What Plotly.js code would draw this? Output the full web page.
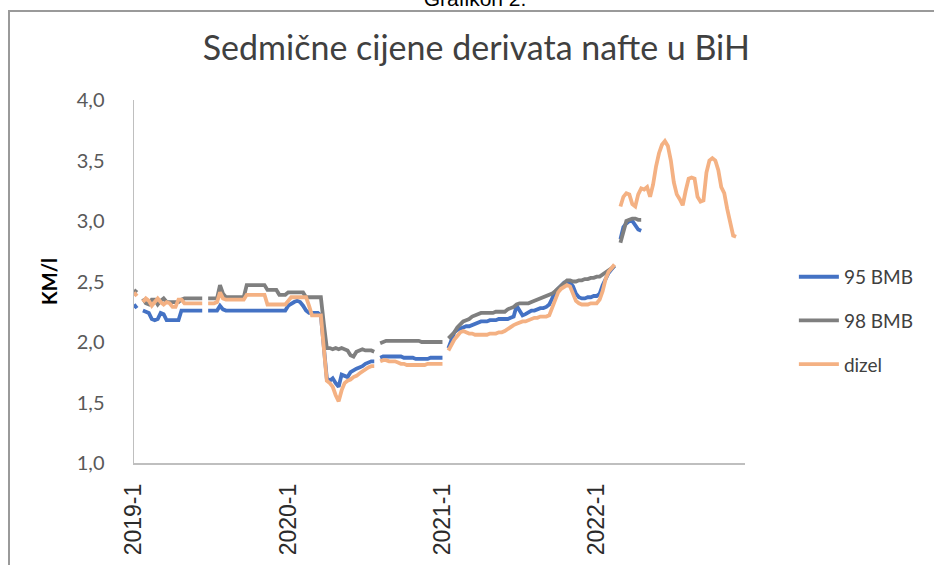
<!DOCTYPE html>
<html>
<head>
<meta charset="utf-8">
<script src="https://cdn.plot.ly/plotly-3.0.1.min.js"></script>
<style>
html,body{margin:0;padding:0;background:#fff;}
#wrap{position:relative;width:934px;height:565px;overflow:hidden;}
#chart{position:absolute;left:0;top:0;width:934px;height:565px;}
#frame{position:absolute;left:8px;top:10px;width:940px;height:570px;border-left:2px solid #9a9a9a;border-top:2px solid #9a9a9a;pointer-events:none;}
#cap{position:absolute;left:8px;width:934px;top:-13px;text-align:center;font-family:"Liberation Sans",Arial,sans-serif;font-size:21px;color:#000;}
</style>
</head>
<body>
<div id="wrap">
<div id="chart"></div>
<div id="frame"></div>
<div id="cap">Grafikon 2.</div>
</div>
<script>
// Tick labels shown on the category axis
const tickLabels = ["2019-1", "2020-1", "2021-1", "2022-1"];
const years = [2019, 2020, 2021, 2022];
const lastWeek2022 = 51;

// Weekly prices, KM/l (null = no data)
const bmb95 = [
  2.31, 2.28, null, 2.26, 2.25, 2.24, 2.19, 2.18, 2.19, 2.24,
  2.23, 2.18, 2.18, 2.18, 2.18, 2.18, 2.26, 2.26, 2.26, 2.26,
  2.26, 2.26, 2.26, 2.26, null, 2.26, 2.26, 2.26, 2.26, 2.30,
  2.27, 2.26, 2.26, 2.26, 2.26, 2.26, 2.26, 2.26, 2.26, 2.26,
  2.26, 2.26, 2.26, 2.26, 2.26, 2.26, 2.26, 2.26, 2.26, 2.26,
  2.26, 2.26, 2.30, 2.32, 2.33, 2.34, 2.33, 2.30, 2.26, 2.24,
  2.24, 2.24, 2.24, 2.22, 1.95, 1.70, 1.68, 1.70, 1.66, 1.63,
  1.73, 1.72, 1.71, 1.75, 1.77, 1.78, 1.79, 1.80, 1.82, 1.83,
  1.84, 1.84, null, 1.87, 1.88, 1.88, 1.88, 1.88, 1.88, 1.88,
  1.88, 1.87, 1.87, 1.87, 1.87, 1.86, 1.86, 1.86, 1.86, 1.86,
  1.87, 1.87, 1.87, 1.87, 1.87, null, 1.95, 2.02, 2.08, 2.10,
  2.11, 2.12, 2.13, 2.13, 2.14, 2.15, 2.16, 2.17, 2.17, 2.17,
  2.18, 2.18, 2.18, 2.19, 2.19, 2.19, 2.19, 2.20, 2.21, 2.30,
  2.26, 2.22, 2.23, 2.25, 2.26, 2.26, 2.27, 2.28, 2.28, 2.29,
  2.31, 2.36, 2.41, 2.44, 2.47, 2.49, 2.49, 2.49, 2.46, 2.40,
  2.37, 2.36, 2.36, 2.37, 2.37, 2.38, 2.38, 2.40, 2.47, 2.53,
  2.57, 2.60, 2.63, null, 2.85, 2.95, 2.98, 3.00, 3.00, 2.97,
  2.93, 2.92
];
const bmb98 = [
  2.43, 2.41, null, 2.36, 2.32, 2.31, 2.35, 2.35, 2.31, 2.34,
  2.36, 2.33, 2.33, 2.33, 2.33, 2.33, 2.35, 2.36, 2.36, 2.36,
  2.36, 2.36, 2.36, 2.36, null, 2.36, 2.36, 2.36, 2.36, 2.47,
  2.40, 2.37, 2.37, 2.37, 2.37, 2.37, 2.37, 2.37, 2.47, 2.47,
  2.47, 2.47, 2.47, 2.47, 2.47, 2.43, 2.43, 2.43, 2.43, 2.39,
  2.39, 2.39, 2.41, 2.41, 2.41, 2.41, 2.41, 2.41, 2.37, 2.37,
  2.37, 2.37, 2.37, 2.37, 2.15, 1.95, 1.95, 1.94, 1.95, 1.94,
  1.95, 1.94, 1.93, 1.89, 1.88, 1.92, 1.93, 1.94, 1.93, 1.93,
  1.93, 1.92, null, 1.99, 2.00, 2.01, 2.01, 2.01, 2.01, 2.01,
  2.01, 2.01, 2.01, 2.01, 2.01, 2.01, 2.01, 2.00, 2.00, 2.00,
  2.00, 2.00, 2.00, 2.00, 2.00, null, 2.03, 2.05, 2.08, 2.12,
  2.15, 2.17, 2.18, 2.19, 2.21, 2.22, 2.23, 2.24, 2.24, 2.24,
  2.24, 2.24, 2.25, 2.25, 2.25, 2.25, 2.27, 2.28, 2.29, 2.31,
  2.32, 2.32, 2.32, 2.32, 2.33, 2.34, 2.35, 2.36, 2.37, 2.38,
  2.39, 2.40, 2.42, 2.44, 2.46, 2.48, 2.51, 2.51, 2.50, 2.50,
  2.51, 2.51, 2.52, 2.52, 2.53, 2.53, 2.54, 2.54, 2.56, 2.58,
  2.59, 2.61, 2.63, null, 2.82, 2.92, 3.00, 3.01, 3.02, 3.02,
  3.01, 3.01
];
const dizel = [
  2.41, 2.38, null, 2.33, 2.36, 2.34, 2.30, 2.33, 2.36, 2.33,
  2.31, 2.33, 2.32, 2.29, 2.29, 2.35, 2.35, 2.32, 2.32, 2.32,
  2.32, 2.32, 2.32, 2.32, null, 2.32, 2.32, 2.32, 2.33, 2.41,
  2.36, 2.35, 2.35, 2.35, 2.35, 2.35, 2.35, 2.35, 2.39, 2.39,
  2.39, 2.39, 2.39, 2.39, 2.39, 2.31, 2.31, 2.31, 2.31, 2.31,
  2.31, 2.31, 2.34, 2.37, 2.37, 2.37, 2.37, 2.37, 2.37, 2.30,
  2.22, 2.22, 2.22, 2.22, 1.95, 1.68, 1.66, 1.63, 1.56, 1.51,
  1.60, 1.66, 1.68, 1.69, 1.71, 1.72, 1.74, 1.76, 1.78, 1.79,
  1.80, 1.80, null, 1.84, 1.85, 1.85, 1.84, 1.84, 1.84, 1.83,
  1.82, 1.82, 1.81, 1.81, 1.81, 1.81, 1.81, 1.81, 1.81, 1.82,
  1.82, 1.82, 1.82, 1.82, 1.82, null, 1.93, 1.98, 2.02, 2.05,
  2.08, 2.09, 2.08, 2.07, 2.07, 2.06, 2.06, 2.06, 2.06, 2.06,
  2.07, 2.07, 2.07, 2.08, 2.08, 2.09, 2.11, 2.13, 2.14, 2.15,
  2.16, 2.17, 2.17, 2.18, 2.19, 2.20, 2.20, 2.21, 2.21, 2.21,
  2.22, 2.28, 2.36, 2.41, 2.44, 2.46, 2.47, 2.46, 2.40, 2.34,
  2.32, 2.31, 2.31, 2.31, 2.32, 2.32, 2.32, 2.35, 2.42, 2.52,
  2.58, 2.61, 2.64, null, 3.12, 3.20, 3.23, 3.22, 3.14, 3.12,
  3.22, 3.27, 3.26, 3.28, 3.20, 3.30, 3.45, 3.56, 3.63, 3.66,
  3.62, 3.50, 3.32, 3.22, 3.18, 3.13, 3.25, 3.35, 3.36, 3.35,
  3.20, 3.16, 3.17, 3.40, 3.50, 3.52, 3.50, 3.42, 3.28, 3.23,
  3.10, 2.97, 2.88, 2.87
];

// Week categories "YYYY-W"
const weeks = [];
years.forEach(function (y) {
  const n = (y === 2022) ? lastWeek2022 : 52;
  for (let w = 1; w <= n; w++) weeks.push(y + "-" + w);
});

function pad(arr) {
  const out = arr.slice();
  while (out.length < weeks.length) out.push(null);
  return out;
}

const lineW = 3.8;
const traces = [
  {name: "95 BMB", x: weeks, y: pad(bmb95), type: "scatter", mode: "lines",
   line: {color: "#4472C4", width: lineW}, legendgroup: "a", connectgaps: false},
  {name: "98 BMB", x: weeks, y: pad(bmb98), type: "scatter", mode: "lines",
   line: {color: "#7F7F7F", width: lineW}, legendgroup: "b", connectgaps: false},
  {name: "dizel", x: weeks, y: pad(dizel), type: "scatter", mode: "lines",
   line: {color: "#F4B183", width: lineW}, legendgroup: "c", connectgaps: false}
];

const layout = {
  width: 934, height: 565,
  margin: {l: 134, r: 189, t: 100, b: 102, pad: 0},
  paper_bgcolor: "#fff", plot_bgcolor: "#fff",
  separators: ", ",
  showlegend: true,
  title: {
    text: "Sedmične cijene derivata nafte u BiH",
    font: {family: "Lato, 'Open Sans', sans-serif", size: 34, color: "#404040"},
    x: 0.51, xanchor: "center", xref: "container",
    y: 1 - 48 / 565, yanchor: "middle", yref: "container"
  },
  xaxis: {
    type: "category",
    categoryorder: "array", categoryarray: weeks,
    range: [0, weeks.length - 1],
    tickmode: "array", tickvals: tickLabels, ticktext: tickLabels,
    tickangle: -90,
    ticks: "", ticklabelstandoff: 10,
    tickfont: {family: "'Liberation Sans', Arial, sans-serif", size: 23, color: "#2b2b2b"},
    showgrid: false, zeroline: false,
    showline: true, linecolor: "#BFBFBF", linewidth: 1.5,
    fixedrange: true
  },
  yaxis: {
    range: [1, 4], dtick: 0.5, tick0: 1, tickformat: ".1f",
    ticks: "", ticklabelstandoff: 24,
    tickfont: {family: "Lato, 'Open Sans', sans-serif", size: 20, color: "#595959"},
    showgrid: false, zeroline: false,
    showline: true, linecolor: "#BFBFBF", linewidth: 1.5,
    title: {text: "<b>KM/l</b>", font: {family: "Lato, 'Open Sans', sans-serif", size: 20, color: "#000"}, standoff: 14},
    fixedrange: true
  },
  legend: {
    x: 1.08, xanchor: "left", y: 0.565, yanchor: "top",
    font: {family: "Lato, 'Open Sans', sans-serif", size: 19, color: "#404040"},
    tracegroupgap: 16, bgcolor: "rgba(0,0,0,0)", itemwidth: 40
  }
};

Plotly.newPlot("chart", traces, layout, {displayModeBar: false, staticPlot: true});
</script>
</body>
</html>
